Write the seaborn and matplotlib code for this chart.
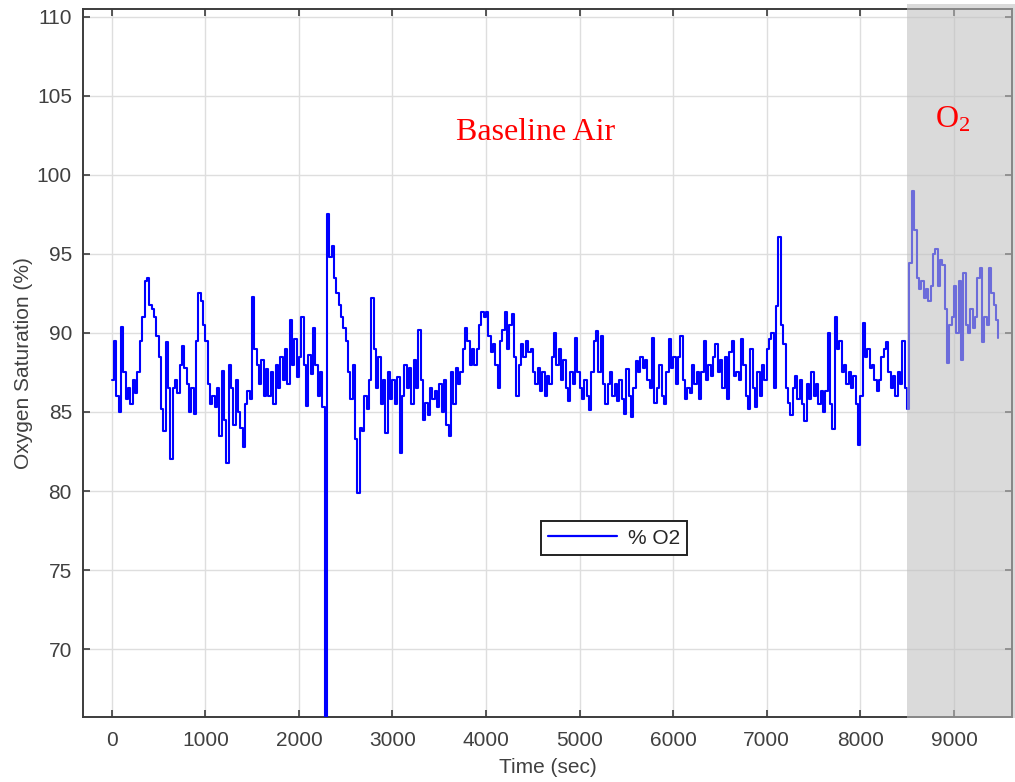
import numpy as np
import pandas as pd
import matplotlib
matplotlib.use("Agg")
import matplotlib.pyplot as plt
import matplotlib.transforms as mtransforms
from matplotlib.patches import Rectangle
import seaborn as sns

# Pulse-oximeter readings, one sample every 25 s
sample_step_sec = 25
spo2_pct = [
    # 0 - 975 s
    87.0, 89.5, 86.0, 85.0, 90.4, 87.5, 85.8, 86.5, 85.5, 87.0,
    86.2, 87.5, 89.5, 91.0, 93.3, 93.5, 91.8, 91.5, 91.0, 89.8,
    88.5, 85.2, 83.8, 89.4, 86.5, 82.0, 86.5, 87.0, 86.2, 88.0,
    89.2, 87.8, 86.8, 85.0, 86.5, 84.9, 89.5, 92.5, 92.0, 90.5,
    # 1000 - 1975 s
    89.5, 86.8, 85.5, 86.0, 85.3, 86.5, 83.5, 87.6, 84.5, 81.8,
    88.0, 86.5, 84.2, 87.0, 85.0, 84.0, 82.8, 85.5, 86.3, 85.8,
    92.3, 89.0, 88.0, 86.8, 88.3, 86.0, 87.7, 86.0, 87.5, 85.5,
    88.0, 86.5, 88.5, 87.0, 89.0, 86.8, 90.8, 88.0, 89.6, 87.2,
    # 2000 - 2975 s
    88.5, 91.0, 88.0, 85.4, 88.6, 87.4, 90.3, 88.0, 86.0, 87.5,
    85.3, 55.0, 97.5, 94.8, 95.5, 93.5, 92.5, 91.8, 91.0, 90.3,
    89.5, 87.5, 85.8, 88.0, 83.3, 79.9, 84.0, 83.8, 86.0, 85.2,
    87.0, 92.2, 89.0, 86.5, 88.5, 85.5, 87.0, 83.7, 87.5, 85.8,
    # 3000 - 3975 s
    87.0, 85.5, 87.2, 82.4, 86.0, 88.0, 86.5, 87.8, 85.5, 88.3,
    86.5, 90.2, 87.0, 84.5, 85.6, 84.8, 86.5, 85.8, 86.3, 85.3,
    86.8, 85.0, 87.0, 84.2, 83.5, 87.5, 85.5, 87.8, 86.8, 87.5,
    89.0, 90.3, 89.5, 88.0, 89.0, 88.0, 89.0, 90.5, 91.3, 91.0,
    # 4000 - 4975 s
    91.3, 89.8, 88.8, 89.3, 88.0, 86.5, 89.5, 90.2, 91.3, 89.0,
    90.5, 91.2, 88.5, 86.0, 88.0, 89.3, 88.5, 89.5, 88.8, 89.0,
    87.5, 86.8, 87.8, 86.3, 87.5, 86.0, 87.3, 86.8, 88.5, 90.0,
    88.0, 89.0, 87.0, 88.3, 86.5, 85.7, 87.5, 86.8, 89.7, 87.5,
    # 5000 - 5975 s
    86.5, 85.8, 87.0, 86.0, 85.1, 87.5, 89.5, 90.1, 87.5, 89.8,
    86.8, 85.5, 86.8, 87.5, 86.0, 86.8, 85.7, 87.0, 85.8, 84.9,
    87.7, 86.0, 84.7, 86.5, 88.2, 87.5, 88.5, 87.8, 88.3, 87.0,
    86.5, 89.7, 85.6, 86.5, 88.0, 86.0, 85.5, 87.5, 89.6, 87.8,
    # 6000 - 6975 s
    88.5, 86.8, 88.5, 89.8, 87.0, 85.8, 86.5, 86.2, 88.0, 86.8,
    87.5, 85.8, 87.5, 89.5, 87.0, 88.0, 87.3, 88.5, 89.3, 87.5,
    88.3, 86.5, 88.5, 85.8, 88.8, 89.5, 87.3, 87.5, 87.0, 89.6,
    88.0, 86.0, 85.2, 89.0, 86.5, 85.3, 87.5, 86.0, 88.0, 87.0,
    # 7000 - 7975 s
    89.0, 89.6, 90.0, 86.5, 91.7, 96.1, 90.5, 89.3, 86.5, 85.6,
    84.8, 86.5, 87.3, 85.8, 87.0, 85.5, 84.4, 86.8, 85.8, 87.5,
    86.0, 86.8, 85.5, 86.3, 85.0, 86.3, 90.0, 85.5, 83.9, 91.0,
    89.0, 89.5, 87.5, 88.0, 86.8, 87.5, 86.5, 87.3, 85.5, 82.9,
    # 8000 - 8975 s
    86.0, 90.6, 88.5, 89.0, 87.8, 88.0, 87.0, 86.3, 87.0, 88.5,
    89.0, 89.4, 87.5, 86.5, 87.3, 86.0, 87.5, 86.8, 89.5, 86.5,
    85.2, 94.4, 99.0, 96.5, 93.5, 92.8, 93.3, 92.2, 92.8, 92.0,
    93.0, 95.0, 95.3, 93.0, 94.6, 94.3, 91.5, 88.1, 90.5, 91.0,
    # 9000 - 9475 s
    93.0, 90.0, 93.3, 88.3, 93.8, 90.5, 90.0, 91.5, 90.3, 91.0,
    93.5, 94.1, 89.4, 91.0, 90.5, 94.1, 92.5, 91.8, 90.8, 89.7,
]
time_sec = np.arange(len(spo2_pct)) * sample_step_sec

x_ticks = [0, 1000, 2000, 3000, 4000, 5000, 6000, 7000, 8000, 9000]
y_ticks = [70, 75, 80, 85, 90, 95, 100, 105, 110]
o2_start_sec = 8500
series_label = "% O2"

df = pd.DataFrame({"Time (sec)": time_sec, "SpO2": spo2_pct})

sns.set_theme(style="whitegrid")
plt.rcParams["font.family"] = ["Liberation Sans", "DejaVu Sans"]
plt.rcParams["mathtext.fontset"] = "custom"
plt.rcParams["mathtext.rm"] = "Liberation Serif"
plt.rcParams["mathtext.it"] = "Liberation Serif:italic"
plt.rcParams["mathtext.bf"] = "Liberation Serif:bold"

axis_gray = "#3c3c3c"
text_gray = "#404040"

fig = plt.figure(figsize=(10.15, 7.82), dpi=100)
ax = fig.add_axes([0.0818, 0.0831, 0.9152, 0.9054])
ax.set_facecolor("white")

sns.lineplot(data=df, x="Time (sec)", y="SpO2", ax=ax, color="#0000ff",
             linewidth=1.5, drawstyle="steps-post", estimator=None,
             label=series_label, zorder=3)

ax.set_xlim(-307, 9620)
ax.set_ylim(65.7, 110.5)
ax.set_xticks(x_ticks)
ax.set_yticks(y_ticks)
ax.grid(True, color="#dedede", linewidth=1.0)

for side, sp in ax.spines.items():
    sp.set_visible(True)
    sp.set_color(axis_gray)
    sp.set_linewidth(1.4)

ax.tick_params(axis="both", direction="in", length=5, width=1.2,
               color=axis_gray, labelcolor=text_gray, labelsize=15,
               top=True, right=True, bottom=True, left=True)
ax.tick_params(axis="x", pad=10)
ax.tick_params(axis="y", pad=8)

ax.set_xlabel("Time (sec)", fontsize=15, color=text_gray, labelpad=6)
ax.set_ylabel("Oxygen Saturation (%)", fontsize=15, color=text_gray, labelpad=3)

leg = ax.legend(loc="center", bbox_to_anchor=(0.5716, 0.2528), fontsize=15,
                frameon=True, fancybox=False, handlelength=3.3,
                borderpad=0.35, handletextpad=0.5, borderaxespad=0)
leg.get_frame().set_edgecolor("#222222")
leg.get_frame().set_linewidth(1.4)
leg.get_frame().set_facecolor("white")
leg.get_frame().set_alpha(1.0)
for line in leg.get_lines():
    line.set_linewidth(1.6)

# Translucent overlay marking the oxygen phase
trans = mtransforms.blended_transform_factory(ax.transData, ax.transAxes)
ax.add_patch(Rectangle((o2_start_sec, -0.001), 5000, 1.008, transform=trans,
                       facecolor=(0.75, 0.75, 0.75), edgecolor="none",
                       alpha=0.57, zorder=6, clip_on=False))

ax.text(0.4869, 0.825, "Baseline Air", transform=ax.transAxes,
        fontsize=23, color="red", family="Liberation Serif",
        ha="center", va="center", zorder=7)
ax.text(0.9366, 0.843, "O$_{2}$", transform=ax.transAxes,
        fontsize=23, color="red", family="Liberation Serif",
        ha="center", va="center", zorder=7)

fig.savefig("out.png", dpi=100)
